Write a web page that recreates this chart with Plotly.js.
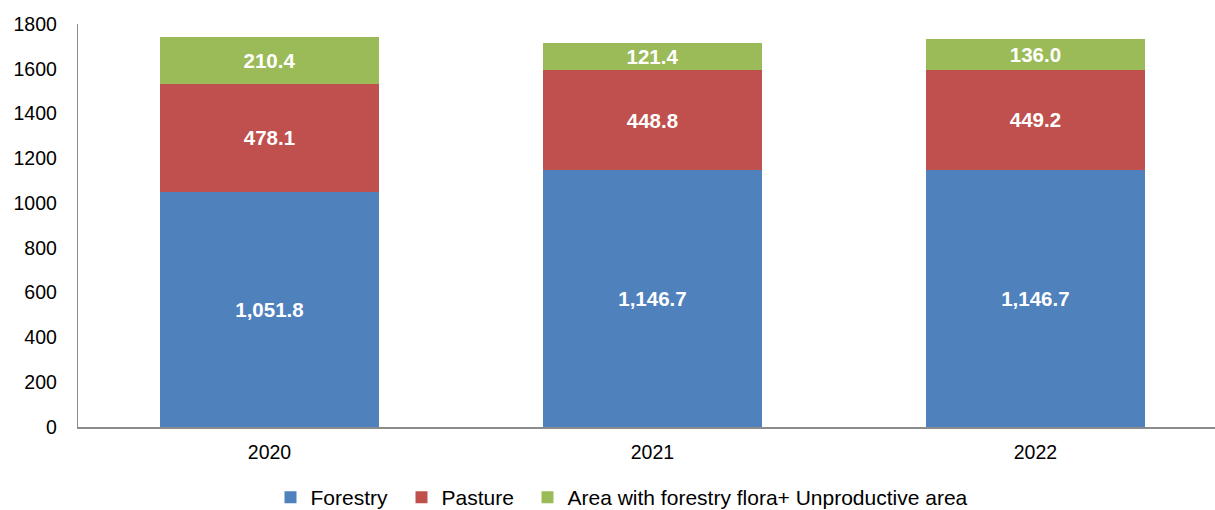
<!DOCTYPE html>
<html>
<head>
<meta charset="utf-8">
<script src="https://cdn.plot.ly/plotly-3.0.1.min.js"></script>
<style>
  html, body { margin: 0; padding: 0; background: #ffffff; }
  #chart { width: 1215px; height: 510px; }
</style>
</head>
<body>
<div id="chart"></div>
<script>
const years = ["2020", "2021", "2022"];
const forestry = [1051.8, 1146.7, 1146.7];
const pasture = [478.1, 448.8, 449.2];
const otherArea = [210.4, 121.4, 136.0];
const seriesNames = ["Forestry", "Pasture", "Area with forestry flora+ Unproductive area"];
const yTicks = [0, 200, 400, 600, 800, 1000, 1200, 1400, 1600, 1800];

const FONT = "Liberation Sans, Arial, Helvetica, sans-serif";
const colors = ["#4F81BD", "#C0504D", "#9BBB59"];
const seriesValues = [forestry, pasture, otherArea];
const legendIds = ["legend", "legend2", "legend3"];
const legendLeftPx = [270.5, 401.5, 527.5];

const traces = seriesValues.map((vals, i) => ({
  type: "bar",
  name: seriesNames[i],
  legend: legendIds[i],
  x: years,
  y: vals,
  marker: { color: colors[i], line: { width: 0 } },
  texttemplate: "%{y:,.1f}",
  textposition: "inside",
  insidetextanchor: "middle",
  constraintext: "none",
  textangle: 0,
  textfont: { family: FONT, size: 20.5, color: "#ffffff", weight: "bold" },
  hoverinfo: "x+y+name"
}));

function legendAt(px) {
  return {
    orientation: "h",
    xref: "container",
    yref: "container",
    x: px / 1215,
    xanchor: "left",
    y: 1 - 497.5 / 510,
    yanchor: "middle",
    itemwidth: 30,
    font: { family: FONT, size: 21, color: "#000000" },
    bgcolor: "rgba(0,0,0,0)",
    borderwidth: 0
  };
}

const layout = {
  width: 1215,
  height: 510,
  margin: { l: 78, r: 0, t: 24, b: 83, pad: 0 },
  paper_bgcolor: "#ffffff",
  plot_bgcolor: "#ffffff",
  barmode: "stack",
  bargap: 0.428,
  font: { family: FONT, size: 19.5, color: "#000000" },
  xaxis: {
    type: "category",
    range: [-0.5, 2.469],
    showline: true,
    linecolor: "#8c8c8c",
    linewidth: 1.5,
    showgrid: false,
    zeroline: false,
    ticks: "",
    ticklabelstandoff: 7,
    tickfont: { family: FONT, size: 19.5, color: "#000000" },
    fixedrange: true
  },
  yaxis: {
    range: [0, 1800],
    tickvals: yTicks,
    ticktext: yTicks.map(String),
    showline: true,
    linecolor: "#8c8c8c",
    linewidth: 1.2,
    showgrid: false,
    zeroline: false,
    ticks: "",
    ticklabelstandoff: 16,
    tickfont: { family: FONT, size: 19.5, color: "#000000" },
    fixedrange: true
  },
  showlegend: true,
  legend: legendAt(legendLeftPx[0]),
  legend2: legendAt(legendLeftPx[1]),
  legend3: legendAt(legendLeftPx[2])
};

Plotly.newPlot("chart", traces, layout, { displayModeBar: false, staticPlot: true });
</script>
</body>
</html>
